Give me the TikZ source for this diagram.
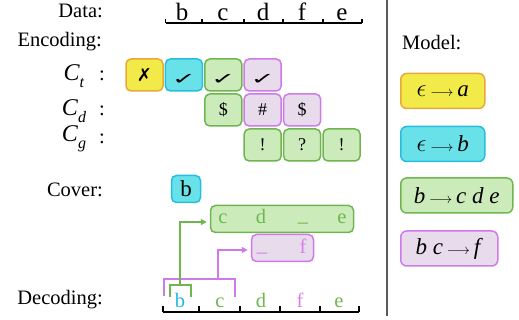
\documentclass[tikz,border=0pt]{standalone}
\usepackage{amssymb}
\usepackage{graphicx}
\usepackage{fontspec}
\setmainfont{Liberation Serif}
\newfontfamily\symfont{DejaVu Sans}
\usetikzlibrary{arrows.meta}

\definecolor{yelFill}{RGB}{242,234,72}
\definecolor{yelLine}{RGB}{232,168,58}
\definecolor{cyaFill}{RGB}{104,226,232}
\definecolor{cyaLine}{RGB}{38,190,222}
\definecolor{grnFill}{RGB}{204,235,186}
\definecolor{grnLine}{RGB}{112,182,80}
\definecolor{purFill}{RGB}{231,219,236}
\definecolor{purLine}{RGB}{206,122,232}
\definecolor{grnText}{RGB}{112,182,80}
\definecolor{purText}{RGB}{214,128,232}
\definecolor{cyaText}{RGB}{30,185,225}
\definecolor{ruleGray}{RGB}{90,90,90}

\newcommand\fsz[1]{\fontsize{#1}{#1}\selectfont}
\newcommand\clab[1]{\textit{C}\raisebox{-0.3em}{\fsz{16}\textit{#1}}}
\newcommand\arr{{\fsz{15}$\longrightarrow$}}
\newcommand\tick{\raisebox{-9.5pt}[0pt][0pt]{\scalebox{1.45}[0.8]{\symfont\bfseries\fsz{20}✓}}}
\newcommand\cross{\raisebox{-1pt}{\symfont\fsz{18}✗}}

\tikzset{
  lbl/.style={font=\fsz{20.5}, inner sep=0pt},
  axlet/.style={font=\fsz{25}, inner sep=0pt, anchor=base},
  declet/.style={font=\fsz{20.5}, inner sep=0pt, anchor=base},
  axis/.style={line width=1.5pt, black},
  cell/.style={rounded corners=5pt, line width=1.5pt, minimum width=37pt,
    minimum height=32pt, inner sep=0pt, font=\fsz{18}},
  ycell/.style={cell, fill=yelFill, draw=yelLine},
  ccell/.style={cell, fill=cyaFill, draw=cyaLine},
  gcell/.style={cell, fill=grnFill, draw=grnLine},
  pcell/.style={cell, fill=purFill, draw=purLine},
  rulebox/.style={rounded corners=6pt, line width=1.5pt, minimum height=35pt,
    inner sep=0pt, anchor=west, font=\fsz{23}},
  gconn/.style={line width=1.5pt, grnLine},
  pconn/.style={line width=1.5pt, purLine},
  tipstyle/.style={-{Triangle[length=6pt,width=6pt]}, shorten >=3pt}
}

\begin{document}
\begin{tikzpicture}[x=1pt,y=-1pt]
\useasboundingbox (0,0) rectangle (519,320);

% left-hand labels
\node[lbl, anchor=base east] (ldata) at (103,18) {Data:};
\node[lbl, anchor=base east] (lenc) at (102,47) {Encoding:};
\node[lbl, anchor=base east] (lcover) at (103,197) {Cover:};
\node[lbl, anchor=base east] (ldec) at (103,304) {Decoding:};

% code-stream row labels
\node[font=\fsz{24}, inner sep=0pt] (lct) at (74,76) {\clab{t}};
\node[font=\fsz{24}, inner sep=0pt] (lcd) at (74,111) {\clab{d}};
\node[font=\fsz{24}, inner sep=0pt] (lcg) at (74,139) {\clab{g}};
\node[lbl] (cct) at (102,76) {:};
\node[lbl] (ccd) at (102,111) {:};
\node[lbl] (ccg) at (102,139) {:};

% data sequence with its tick axis
\draw[axis] (165.7,23) -- (362,23);
\foreach \x in {165.7,202,244,283,323,362} \draw[axis] (\x,23) -- (\x,19);
\node[axlet] (db) at (182,20.5) {b};
\node[axlet] (dc) at (223,20.5) {c};
\node[axlet] (dd) at (263,20.5) {d};
\node[axlet] (df) at (302,20.5) {f};
\node[axlet] (de) at (342,20.5) {e};

% encoding streams
\node[ycell] (t0) at (144.5,75) {\cross};
\node[ccell] (t1) at (183.9,75) {\tick};
\node[gcell] (t2) at (223.3,75) {\tick};
\node[pcell] (t3) at (262.7,75) {\tick};

\node[gcell] (d2) at (223.3,110) {\$};
\node[pcell] (d3) at (262.7,110) {\#};
\node[pcell] (d4) at (302.1,110) {\$};

\node[gcell] (g3) at (262.7,145) {!};
\node[gcell] (g4) at (302.1,145) {?};
\node[gcell] (g5) at (341.5,145) {!};

% cover
\node[ccell, minimum width=29pt, minimum height=27pt, rounded corners=5pt,
      font=\fsz{23}] (cb) at (186,189) {b};
\node[gcell, minimum width=143pt, minimum height=27pt] (cde) at (282,219) {};
\node[declet, text=grnText] (cde1) at (223,224) {c};
\node[declet, text=grnText] (cde2) at (261,224) {d};
\node[declet, text=grnText] (cde3) at (303,222) {\_};
\node[declet, text=grnText] (cde4) at (342,224) {e};
\node[pcell, minimum width=62pt, minimum height=27pt] (pf) at (282.5,248) {};
\node[declet, text=purText] (pf1) at (262,251.5) {\_};
\node[declet, text=purText] (pf2) at (303,253.3) {f};

% decoding sequence with its tick axis
\draw[axis] (163,312) -- (359,312);
\foreach \x in {163,199,240,280,320,359} \draw[axis] (\x,312) -- (\x,306);
\node[declet, text=cyaText] (xb) at (180,307.7) {b};
\node[declet, text=grnText] (xc) at (220,307.7) {c};
\node[declet, text=grnText] (xd) at (261,307.7) {d};
\node[declet, text=purText] (xf) at (300,307.7) {f};
\node[declet, text=grnText] (xe) at (339,307.7) {e};

% context brackets and their arrows
\draw[pconn] (164,296) -- (164,279) -- (235,279) -- (235,297);
\draw[gconn] (170,297) -- (170,285) -- (191,285) -- (191,297);
\coordinate (gtop) at (180,285);
\coordinate (ptop) at (218,279);
\draw[gconn, tipstyle] (gtop) |- ([yshift=-3pt]cde.west);
\draw[pconn, tipstyle] (ptop) |- ([yshift=-2pt]pf.west);

% separator
\draw[line width=1.2pt, ruleGray] (387,0) -- (387,316);

% model
\node[lbl, anchor=base west] (lmodel) at (402,50) {Model:};
\node[rulebox, fill=yelFill, draw=yelLine, minimum width=84pt] (m1) at (400,91)
  {$\epsilon$\,\arr\,\textit{a}};
\node[rulebox, fill=cyaFill, draw=cyaLine, minimum width=84pt] (m2) at (400,144)
  {$\epsilon$\,\arr\,\textit{b}};
\node[rulebox, fill=grnFill, draw=grnLine, minimum width=112pt] (m3) at (400,195.5)
  {\textit{b}\,\arr\,\textit{c d e}};
\node[rulebox, fill=purFill, draw=purLine, minimum width=97pt] (m4) at (400,248.5)
  {\textit{b c}\,\arr\,\textit{f}};
\end{tikzpicture}
\end{document}
